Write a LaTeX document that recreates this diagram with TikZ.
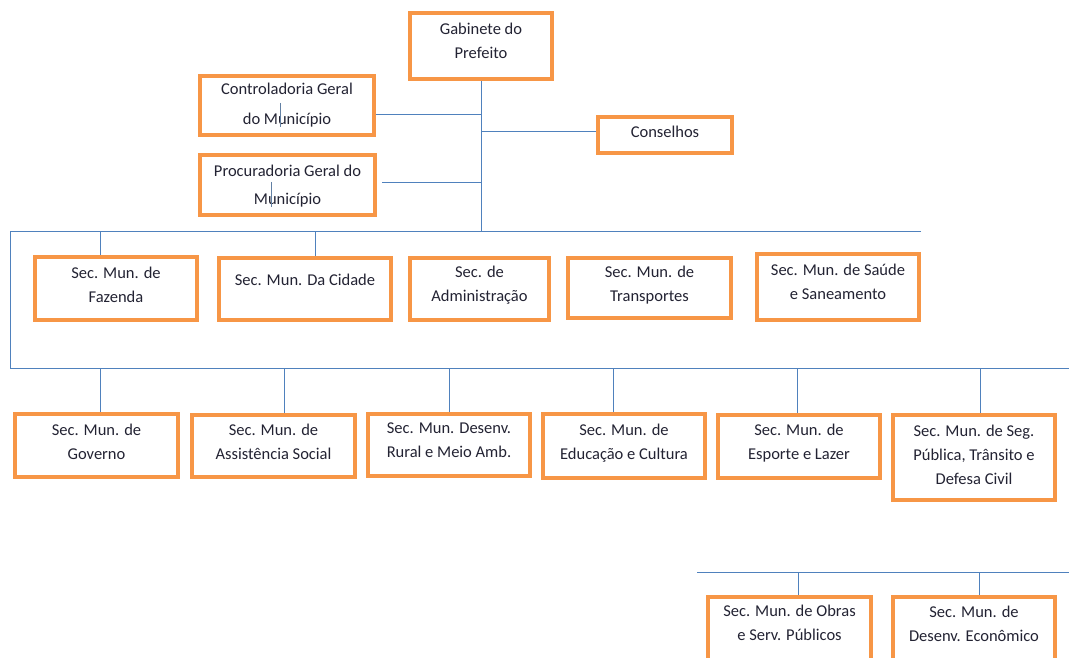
\documentclass[tikz,border=0pt]{standalone}
\usepackage{fontspec}
\setmainfont{Carlito}
\definecolor{boxorange}{HTML}{F79646}
\definecolor{lineblue}{HTML}{4F81BD}
\definecolor{txt}{HTML}{232333}
\tikzset{
  orgbox/.style={draw=boxorange, line width=4pt, fill=white, inner sep=0pt},
  boxtext/.style={inner sep=0pt, align=center, text=txt, font=\fontsize{16.5}{24}\selectfont},
  link/.style={draw=lineblue, line width=1pt},
  tick/.style={draw=lineblue!60!gray, line width=1pt}
}
% #1 name, #2-#5 outer box x1,y1,x2,y2, #6 text y-centre offset from box centre, #7 text
\newcommand\orgbox[7]{%
  \node[orgbox, minimum width={#4-#2-4}, minimum height={#5-#3-4}] (#1) at ({(#2+#4)/2},{(#3+#5)/2}) {};
  \node[boxtext] (#1-t) at ([yshift={-(#6)*1pt}]#1.center) {#7};}
\begin{document}
\begin{tikzpicture}[x=1pt,y=-1pt]
\useasboundingbox (0,0) rectangle (1069,658);
\clip (0,0) rectangle (1069,658);
\fill[white] (0,0) rectangle (1069,658);

% bus coordinates
\coordinate (b1L) at (10,231);
\coordinate (b1R) at (921,231);
\coordinate (b2L) at (10,368);
\coordinate (b2R) at (1069,368);
\coordinate (b3L) at (697,572);
\coordinate (b3R) at (1069,572);
\coordinate (t1) at (481,115);
\coordinate (t2) at (481,183);
\coordinate (t3) at (481,132);

% top
\orgbox{gab}{408}{11}{554}{81}{-5}{Gabinete do\\Prefeito}
\orgbox{ctrl}{198}{74}{376}{137}{0}{Controladoria Geral\\[6pt]do Município}
\orgbox{proc}{198}{153}{377}{217}{1}{Procuradoria Geral do\\[4pt]Município}
\orgbox{cons}{596}{115}{734}{155}{-3}{Conselhos}

% row 1
\orgbox{faz}{33}{255}{199}{322}{-4}{Sec. Mun. de\\Fazenda}
\orgbox{cid}{217}{256}{393}{322}{-9}{Sec. Mun. Da Cidade}
\orgbox{adm}{408}{256}{551}{322}{-4}{Sec. de\\Administração}
\orgbox{tra}{566}{256}{733}{320}{-3}{Sec. Mun. de\\Transportes}
\orgbox{sau}{755}{252}{921}{322}{-5}{Sec. Mun. de Saúde\\e Saneamento}

% row 2
\orgbox{gov}{13}{412}{180}{479}{-4}{Sec. Mun. de\\Governo}
\orgbox{ass}{190}{413}{357}{479}{-4}{Sec. Mun. de\\Assistência Social}
\orgbox{rur}{366}{412}{532}{478}{-5}{Sec. Mun. Desenv.\\Rural e Meio Amb.}
\orgbox{edu}{541}{412}{707}{480}{-3}{Sec. Mun. de\\Educação e Cultura}
\orgbox{esp}{716}{413}{882}{480}{-3}{Sec. Mun. de\\Esporte e Lazer}
\orgbox{seg}{891}{413}{1057}{502}{-3}{Sec. Mun. de Seg.\\Pública, Trânsito e\\Defesa Civil}

% row 3 (cut off at bottom)
\orgbox{obr}{706}{595}{873}{680}{-15}{Sec. Mun. de Obras\\e Serv. Públicos}
\orgbox{eco}{891}{595}{1057}{680}{-14}{Sec. Mun. de\\Desenv. Econômico}

% connectors
\draw[link] (gab.south) -- (gab.south |- b1L);
\draw[link] (ctrl.east |- t1) -- (t1);
\draw[link] ([xshift=5pt]proc.east |- t2) -- (t2);
\draw[link] (t3) -- (cons.west |- t3);
\draw[link] (b1R) -- (b1L) -- (b2L) -- (b2R);
\draw[link] (b3L) -- (b3R);

\coordinate (d1) at (100,231);
\coordinate (d2) at (315,231);
\draw[link] (d1) -- (d1 |- faz.north);
\draw[link] (d2) -- (d2 |- cid.north);

\foreach \x/\n in {100/gov,284/ass,449/rur,613/edu,797/esp,980/seg}{
  \coordinate (e\n) at (\x,368);
  \draw[link] (e\n) -- (e\n |- \n.north);
}
\foreach \x/\n in {798/obr,979/eco}{
  \coordinate (f\n) at (\x,572);
  \draw[link] (f\n) -- (f\n |- \n.north);
}

% stray ticks inside boxes
\draw[tick] (280,103) -- (280,127);
\draw[tick] (271,182) -- (271,207);
\end{tikzpicture}
\end{document}
